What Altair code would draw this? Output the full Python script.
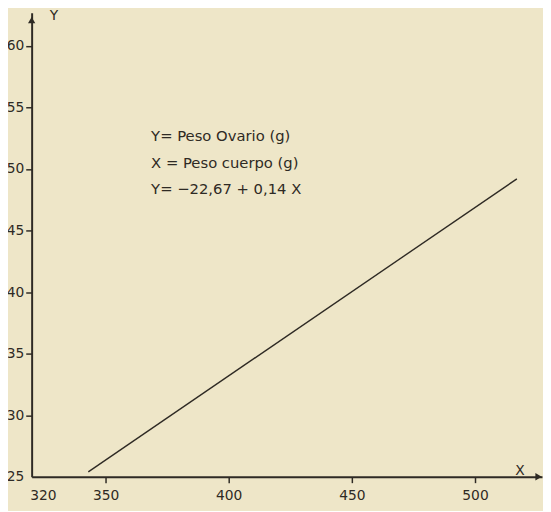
import altair as alt
import pandas as pd

# Regression line endpoints
x_line = [343, 517]
y_line = [25.4, 49.2]

# Axis tick values
x_ticks = [320, 350, 400, 450, 500]
y_ticks = [25, 30, 35, 40, 45, 50, 55, 60]

# Annotation text lines and their data positions
notes = ["Y= Peso Ovario (g)", "X = Peso cuerpo (g)", "Y= \u221222,67 + 0,14  X"]
note_x = [368.5, 368.5, 368.5]
note_y = [52.7, 50.5, 48.4]

# Arrow heads at axis ends
arrow_x = [320, 525.8]
arrow_y = [62.1, 25]
arrow_shape = ["triangle-up", "triangle-right"]

ink = "#2e2a24"
bg = "#eee6c8"
font = "DejaVu Sans"

xs = alt.Scale(domain=[320, 527.2], nice=False, zero=False)
ys = alt.Scale(domain=[25, 62.7], nice=False, zero=False)

x_axis = alt.Axis(
    values=x_ticks, title="X", grid=False,
    domainColor=ink, domainWidth=2, tickColor=ink, tickWidth=1.5, tickSize=6,
    labelColor=ink, labelFont=font, labelFontSize=14, labelPadding=6,
    labelAlign={"condition": {"test": "datum.value == 320", "value": "left"}, "value": "center"},
    labelOffset={"condition": {"test": "datum.value == 320", "value": -2}, "value": 0},
    tickOpacity={"condition": {"test": "datum.value == 320", "value": 0}, "value": 1},
    titleFont=font, titleFontSize=14, titleFontWeight="normal", titleColor=ink,
    titleX=495, titleY=-6, titleAlign="center", titleBaseline="middle",
)
y_axis = alt.Axis(
    values=y_ticks, title="Y", grid=False,
    domainColor=ink, domainWidth=2, tickColor=ink, tickWidth=1.5, tickSize=6,
    labelColor=ink, labelFont=font, labelFontSize=14, labelPadding=2,
    tickOpacity={"condition": {"test": "datum.value == 25", "value": 0}, "value": 1},
    titleFont=font, titleFontSize=14, titleFontWeight="normal", titleColor=ink,
    titleAngle=0, titleX=18, titleY=3, titleAlign="left", titleBaseline="middle",
)

line = alt.Chart(pd.DataFrame({"x": x_line, "y": y_line})).mark_line(
    color=ink, strokeWidth=1.4
).encode(
    x=alt.X("x:Q", scale=xs, axis=x_axis),
    y=alt.Y("y:Q", scale=ys, axis=y_axis),
)

arrows = alt.Chart(pd.DataFrame({"x": arrow_x, "y": arrow_y, "s": arrow_shape})).mark_point(
    filled=True, color=ink, opacity=1, size=55
).encode(
    x=alt.X("x:Q", scale=xs),
    y=alt.Y("y:Q", scale=ys),
    shape=alt.Shape("s:N", scale=alt.Scale(domain=arrow_shape, range=arrow_shape), legend=None),
)

text = alt.Chart(pd.DataFrame({"x": note_x, "y": note_y, "t": notes})).mark_text(
    align="left", baseline="middle", font=font, fontSize=15, color=ink
).encode(
    x=alt.X("x:Q", scale=xs),
    y=alt.Y("y:Q", scale=ys),
    text="t:N",
)

chart = alt.layer(line, arrows, text).properties(
    width=518, height=471,
    autosize=alt.AutoSizeParams(type="none"),
    padding={"left": 24, "top": 1, "right": 1, "bottom": 31},
    background=bg,
).configure_view(stroke=None)

chart.save("out.html", embed_options={"renderer": "svg", "actions": False})
